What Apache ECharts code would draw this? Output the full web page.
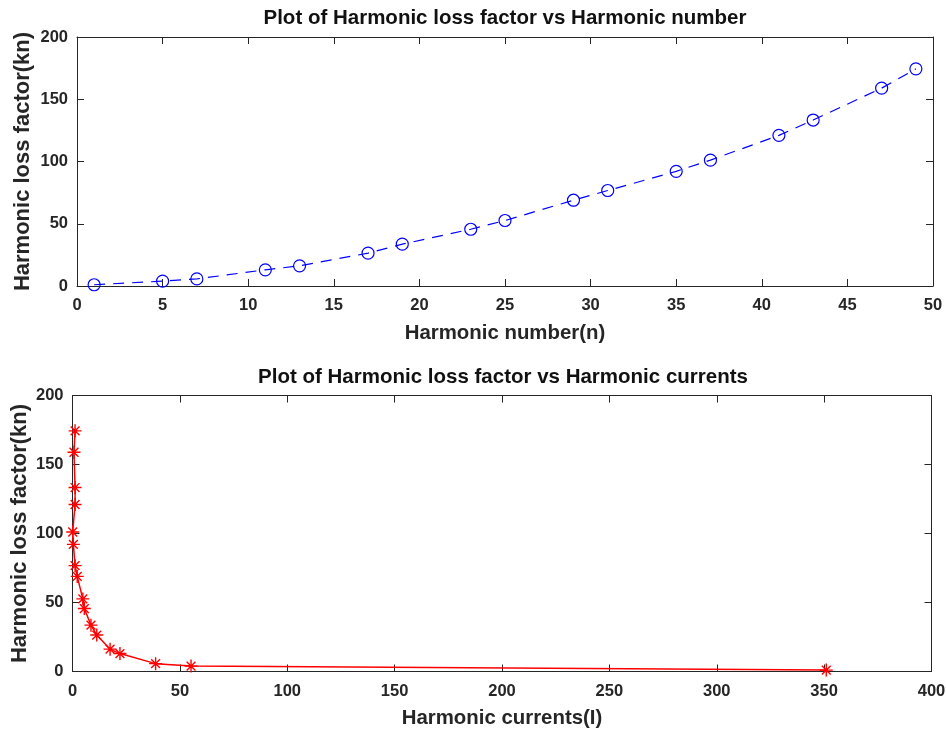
<!DOCTYPE html>
<html>
<head>
<meta charset="utf-8">
<title>Harmonic loss factor</title>
<script src="https://cdn.jsdelivr.net/npm/echarts@6/dist/echarts.min.js"></script>
<style>
  html, body { margin: 0; padding: 0; background: #fff; }
  #chart { width: 946px; height: 729px; }
</style>
</head>
<body>
<div id="chart"></div>
<script>
// Harmonic orders (odd harmonics, triplens excluded)
var harmonicOrder = [1, 5, 7, 11, 13, 17, 19, 23, 25, 29, 31, 35, 37, 41, 43, 47, 49];
// Harmonic loss factor kn for each order
var lossFactor = [1.0, 3.9, 5.7, 13.0, 16.2, 26.4, 33.6, 45.6, 52.6, 68.9, 76.7, 92.1, 101.1, 121.0, 133.3, 158.9, 174.4];
// Harmonic current for each order
var harmonicCurrent = [351, 55.2, 38.7, 22.1, 17.5, 11.3, 8.6, 5.5, 4.8, 2.2, 1.2, 0.4, 0.1, 1.2, 1.2, 0.7, 1.2];

// Axis tick values
var xTicksTop = { min: 0, max: 50, interval: 5 };
var xTicksBottom = { min: 0, max: 400, interval: 50 };
var yTicks = { min: 0, max: 200, interval: 50 };

var titles = ['Plot of Harmonic loss factor vs Harmonic number',
              'Plot of Harmonic loss factor vs Harmonic currents'];
var xNames = ['Harmonic number(n)', 'Harmonic currents(I)'];
var yName = 'Harmonic loss factor(kn)';

var FONT = 'Liberation Sans';
var AXIS_COLOR = '#262626';

function boxAxis(kind, grid, ticks, position, showLabels, name, nameGap, nameSize) {
  var ax = {
    type: 'value',
    gridIndex: grid,
    position: position,
    min: ticks.min, max: ticks.max, interval: ticks.interval,
    splitLine: { show: false },
    axisLine: { show: true, onZero: false, lineStyle: { color: AXIS_COLOR, width: 1 } },
    axisTick: { show: true, inside: true, length: 7, lineStyle: { color: AXIS_COLOR, width: 1 } },
    axisLabel: {
      show: showLabels, margin: kind === 'x' ? 11 : 9,
      color: AXIS_COLOR, fontFamily: FONT, fontWeight: 'bold', fontSize: 16.5,
      showMinLabel: true, showMaxLabel: true
    }
  };
  if (name) {
    ax.name = name;
    ax.nameLocation = 'middle';
    ax.nameGap = nameGap;
    ax.nameMoveOverlap = false;
    ax.nameTextStyle = { color: AXIS_COLOR, fontFamily: FONT, fontWeight: 'bold', fontSize: nameSize };
  }
  return ax;
}

var topPoints = harmonicOrder.map(function (n, i) { return [n, lossFactor[i]]; });
var bottomPoints = harmonicCurrent.map(function (c, i) { return [c, lossFactor[i]]; });

var chart = echarts.init(document.getElementById('chart'), null, { renderer: 'canvas' });

chart.setOption({
  animation: false,
  backgroundColor: '#ffffff',
  grid: [
    { left: 77, right: 13, top: 37, height: 249, containLabel: false, outerBoundsMode: 'none' },
    { left: 72.5, right: 14.5, top: 395.5, height: 276, containLabel: false, outerBoundsMode: 'none' }
  ],
  graphic: [
    { type: 'text', x: 505, y: 18, style: { text: titles[0], align: 'center', verticalAlign: 'middle',
      fill: '#111', font: 'bold 20.5px "Liberation Sans"' } },
    { type: 'text', x: 503, y: 377, style: { text: titles[1], align: 'center', verticalAlign: 'middle',
      fill: '#111', font: 'bold 20.5px "Liberation Sans"' } }
  ],
  xAxis: [
    boxAxis('x', 0, xTicksTop, 'bottom', true, xNames[0], 37, 20.4),
    boxAxis('x', 0, xTicksTop, 'top', false),
    boxAxis('x', 1, xTicksBottom, 'bottom', true, xNames[1], 37, 20.4),
    boxAxis('x', 1, xTicksBottom, 'top', false)
  ],
  yAxis: [
    boxAxis('y', 0, yTicks, 'left', true, yName, 43, 22),
    boxAxis('y', 0, yTicks, 'right', false),
    boxAxis('y', 1, yTicks, 'left', true, yName, 41.5, 22),
    boxAxis('y', 1, yTicks, 'right', false)
  ],
  series: [
    {
      type: 'line', xAxisIndex: 0, yAxisIndex: 0,
      data: topPoints,
      symbol: 'circle', symbolSize: 12,
      lineStyle: { color: '#0000ff', width: 1.2, type: [11, 8] },
      itemStyle: { color: 'rgba(0,0,0,0)', borderColor: '#0000ff', borderWidth: 1.2 },
      z: 3
    },
    {
      type: 'line', xAxisIndex: 2, yAxisIndex: 2,
      data: bottomPoints,
      symbol: 'path://M0,5 L10,5 M5,0 L5,10 M1.6,1.6 L8.4,8.4 M8.4,1.6 L1.6,8.4',
      symbolSize: 13,
      lineStyle: { color: '#ff0000', width: 1.5 },
      itemStyle: { color: '#ff0000', borderColor: '#ff0000', borderWidth: 1.4 },
      z: 3
    }
  ]
});
</script>
</body>
</html>
